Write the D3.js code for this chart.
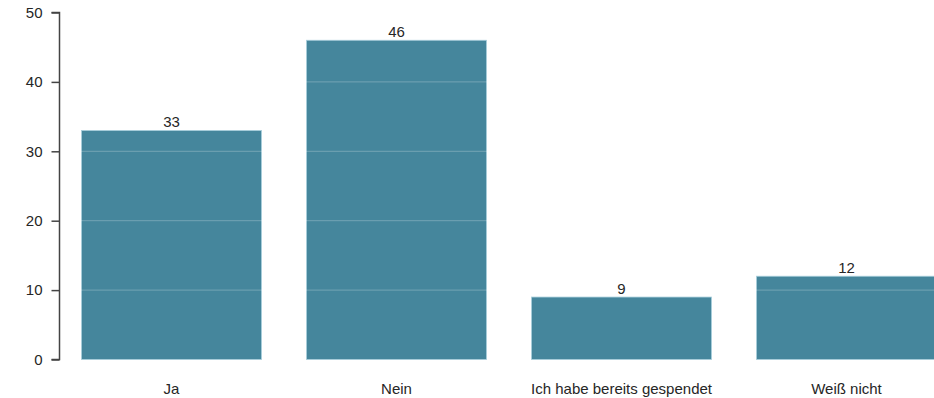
<!DOCTYPE html>
<html><head><meta charset="utf-8">
<script src="https://cdn.jsdelivr.net/npm/d3@7"></script>
<style>body{margin:0;background:#fff;}svg{display:block;font-family:"Liberation Sans",Arial,sans-serif;}</style>
</head><body>
<script>
const categories = ["Ja", "Nein", "Ich habe bereits gespendet", "Weiß nicht"];
const values = [33, 46, 9, 12];
const yTicks = [0, 10, 20, 30, 40, 50];

const W = 934, H = 398;
const svg = d3.select("body").append("svg").attr("width", W).attr("height", H);
const x = d3.scaleBand().domain(categories).range([59, 959]).paddingInner(0.2).paddingOuter(0.1);
const y = d3.scaleLinear().domain([0, 50]).range([359.5, 12.5]);

// bars
svg.append("g").selectAll("rect").data(values).join("rect")
  .attr("x", (d, i) => x(categories[i]))
  .attr("y", d => y(d))
  .attr("width", x.bandwidth())
  .attr("height", d => y(0) - y(d))
  .attr("fill", "#45869c")
  .attr("stroke", "#a9cfdc").attr("stroke-width", 0.8);

// gridlines over bars
svg.append("g").selectAll("line").data(yTicks.filter(t => t > 0)).join("line")
  .attr("x1", 59).attr("x2", W)
  .attr("y1", d => y(d)).attr("y2", d => y(d))
  .attr("stroke", "#ffffff").attr("stroke-opacity", 0.25).attr("stroke-width", 1);

// value labels
svg.append("g").selectAll("text").data(values).join("text")
  .attr("x", (d, i) => x(categories[i]) + x.bandwidth() / 2)
  .attr("y", d => y(d) - 3)
  .attr("text-anchor", "middle").attr("font-size", 15).attr("fill", "#262626")
  .text(d => d);

// y axis
const yAxis = d3.axisLeft(y).tickValues(yTicks).tickSize(8).tickPadding(9);
const gy = svg.append("g").attr("transform", "translate(59.5,0)").call(yAxis);
gy.select(".domain").attr("stroke", "#444").attr("stroke-width", 1.5).attr("d", `M-8,${y(50)}H0V${y(0)}H-8`);
gy.selectAll(".tick line").attr("stroke", "#444").attr("stroke-width", 1.5);
gy.selectAll(".tick text").attr("font-size", 15).attr("fill", "#262626").attr("font-family", "Liberation Sans, Arial, sans-serif");

// x labels
svg.append("g").selectAll("text").data(categories).join("text")
  .attr("x", d => x(d) + x.bandwidth() / 2)
  .attr("y", 394)
  .attr("text-anchor", "middle").attr("font-size", 15).attr("fill", "#262626")
  .text(d => d);
</script>
</body></html>
